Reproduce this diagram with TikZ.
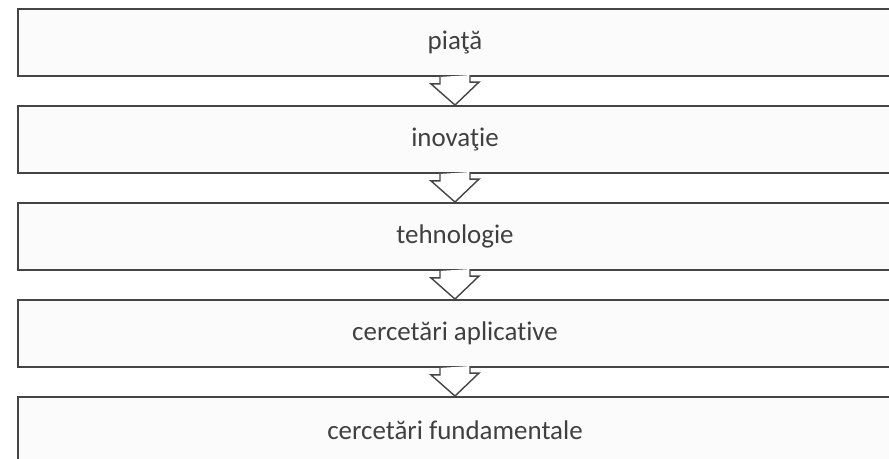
\documentclass[tikz,border=0pt]{standalone}
\usepackage{fontspec}
\setmainfont{Carlito}[Ligatures=NoCommon]
\usepackage{tikz}
\definecolor{boxline}{rgb}{0.27,0.27,0.27}
\definecolor{boxfill}{rgb}{0.985,0.985,0.985}
\definecolor{textgray}{rgb}{0.25,0.25,0.25}

\begin{document}
\begin{tikzpicture}[x=0.03cm, y=-0.03cm]
\tikzstyle{level} = [rectangle, draw=boxline, line width=1.6pt, fill=boxfill, minimum width=26.22cm, minimum height=2.01cm, text=textgray, font=\fontsize{23}{27}\selectfont]
\tikzstyle{flow} = [draw=boxline, line width=1.2pt, fill=white, line join=miter]

\useasboundingbox (0,0) rectangle (889,459);
\clip (0,0) rectangle (889,459);

\node[level] (piata) at (455,42.5) {piaţă};
\node[level] (inovatie) at (455,139.5) {inovaţie};
\node[level] (tehno) at (455,236.5) {tehnologie};
\node[level] (aplic) at (455,333.5) {cercetări aplicative};
\node[level] (fund) at (455,430.5) {cercetări fundamentale};

\draw[flow] (piata.south) ++(-15,0) -- ++(0,7) -- ++(-9,0) -- (inovatie.north) -- ++(24,-23) -- ++(-9,0) -- ++(0,-7);
\draw[flow] (inovatie.south) ++(-15,0) -- ++(0,7) -- ++(-9,0) -- (tehno.north) -- ++(24,-23) -- ++(-9,0) -- ++(0,-7);
\draw[flow] (tehno.south) ++(-15,0) -- ++(0,7) -- ++(-9,0) -- (aplic.north) -- ++(24,-23) -- ++(-9,0) -- ++(0,-7);
\draw[flow] (aplic.south) ++(-15,0) -- ++(0,7) -- ++(-9,0) -- (fund.north) -- ++(24,-23) -- ++(-9,0) -- ++(0,-7);
\end{tikzpicture}
\end{document}
